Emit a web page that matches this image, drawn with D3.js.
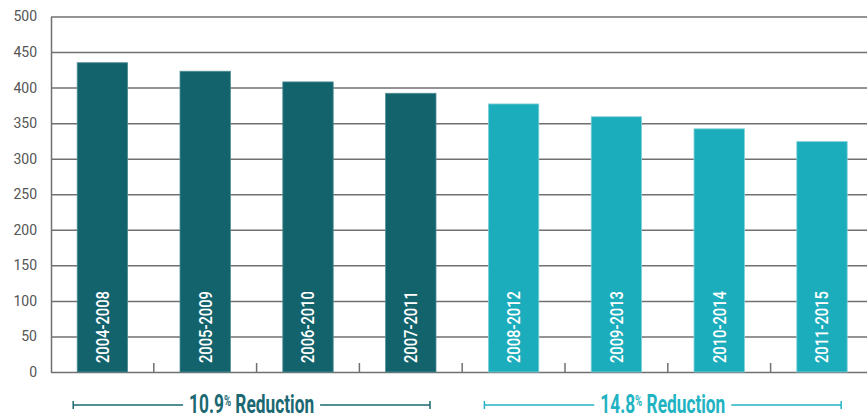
<!DOCTYPE html>
<html>
<head>
<meta charset="utf-8">
<script src="https://cdn.jsdelivr.net/npm/d3@7"></script>
<style>
	body { margin: 0; background: #fff; }
	svg { display: block; }
	.y-axis text { font-family: Roboto, sans-serif; font-size: 14px; fill: #555; }
</style>
</head>
<body>
<script>
const periods = ["2004-2008", "2005-2009", "2006-2010", "2007-2011",
	"2008-2012", "2009-2013", "2010-2014", "2011-2015"];
const values = [435, 423, 408, 392, 377, 359, 342, 324];
const groups = ["early", "early", "early", "early", "late", "late", "late", "late"];
const yTicks = [0, 50, 100, 150, 200, 250, 300, 350, 400, 450, 500];
const reductions = [
	{ group: "early", first: "2004-2008", last: "2007-2011", pct: "10.9", rest: " Reduction" },
	{ group: "late", first: "2008-2012", last: "2011-2015", pct: "14.8", rest: " Reduction" }
];

const width = 867,
	height = 417;

const colors = { early: "#13636d", late: "#1cadbc" };
const edge = { early: "#4f8d94", late: "#7fd0d8" };
const noteColors = { early: "#1b6872", late: "#22b3c3" };

const svg = d3.select("body")
	.append("svg")
	.attr("width", width)
	.attr("height", height);

const plotLeft = 51, plotTop = 16.5, plotBottom = 372;
const step = 102.8;

const y = d3.scaleLinear().domain([0, 500]).range([plotBottom, plotTop]);
const x = d3.scaleBand()
	.domain(periods)
	.range([plotLeft, plotLeft + step * periods.length])
	.paddingInner(0.51)
	.paddingOuter(0.255);

// gridlines
svg.append("g")
	.attr("class", "grid")
	.attr("transform", "translate(" + plotLeft + ",0)")
	.call(d3.axisLeft(y).tickValues(yTicks).tickSize(-(width - plotLeft)).tickFormat(""))
	.call(g => g.select(".domain").remove())
	.call(g => g.selectAll("line").attr("stroke", "#707070").attr("stroke-width", 1.5));

// y axis
svg.append("g")
	.attr("class", "y-axis")
	.attr("transform", "translate(" + plotLeft + ",0)")
	.call(d3.axisLeft(y).tickValues(yTicks).tickSize(0).tickPadding(14))
	.call(g => g.select(".domain").attr("stroke", "#707070").attr("stroke-width", 1.5));

// category separators on the baseline
svg.append("g")
	.selectAll("line")
	.data(periods)
	.join("line")
	.attr("x1", d => x(d) + x.bandwidth() + (x.step() - x.bandwidth()) / 2)
	.attr("x2", d => x(d) + x.bandwidth() + (x.step() - x.bandwidth()) / 2)
	.attr("y1", plotBottom)
	.attr("y2", plotBottom - 9)
	.attr("stroke", "#707070")
	.attr("stroke-width", 1.5);

// bars
svg.append("g")
	.selectAll("rect")
	.data(periods)
	.join("rect")
	.attr("x", d => x(d))
	.attr("y", (d, i) => y(values[i]))
	.attr("width", x.bandwidth())
	.attr("height", (d, i) => y(0) - y(values[i]))
	.attr("fill", (d, i) => colors[groups[i]])
	.attr("stroke", (d, i) => edge[groups[i]])
	.attr("stroke-width", 0.8);

// labels inside bars
svg.append("g")
	.selectAll("text")
	.data(periods)
	.join("text")
	.attr("transform", d => "translate(" + (x(d) + x.bandwidth() / 2) + "," + (plotBottom - 9) + ") rotate(-90)")
	.attr("dy", "0.36em")
	.attr("text-anchor", "start")
	.attr("textLength", 72)
	.attr("lengthAdjust", "spacingAndGlyphs")
	.style("font-family", "Roboto, sans-serif")
	.style("font-size", "18px")
	.style("font-weight", 500)
	.attr("fill", "#fff")
	.text(d => d);

// reduction brackets
const lineY = 405;
reductions.forEach(r => {
	const x0 = x(r.first) - 4,
		x1 = x(r.last) + x.bandwidth() - 6,
		mid = (x0 + x1) / 2,
		textW = 125,
		gap = 6;
	const c = noteColors[r.group];
	const g = svg.append("g");

	g.append("line").attr("x1", x0).attr("x2", mid - textW / 2 - gap)
		.attr("y1", lineY).attr("y2", lineY).attr("stroke", c).attr("stroke-width", 1.5);
	g.append("line").attr("x1", mid + textW / 2 + gap).attr("x2", x1)
		.attr("y1", lineY).attr("y2", lineY).attr("stroke", c).attr("stroke-width", 1.5);
	[x0, x1].forEach(xx => {
		g.append("line").attr("x1", xx).attr("x2", xx)
			.attr("y1", lineY - 4).attr("y2", lineY + 4).attr("stroke", c).attr("stroke-width", 1.5);
	});

	const t = g.append("text")
		.attr("x", mid - textW / 2)
		.attr("y", 412.5)
		.attr("textLength", textW)
		.attr("lengthAdjust", "spacingAndGlyphs")
		.style("font-family", "Roboto, sans-serif")
		.style("font-size", "25px")
		.style("font-weight", 700)
		.attr("fill", c);
	t.append("tspan").text(r.pct);
	t.append("tspan").attr("dy", -7).style("font-size", "14px").text("%");
	t.append("tspan").attr("dy", 7).text(r.rest);
});
</script>
</body>
</html>
